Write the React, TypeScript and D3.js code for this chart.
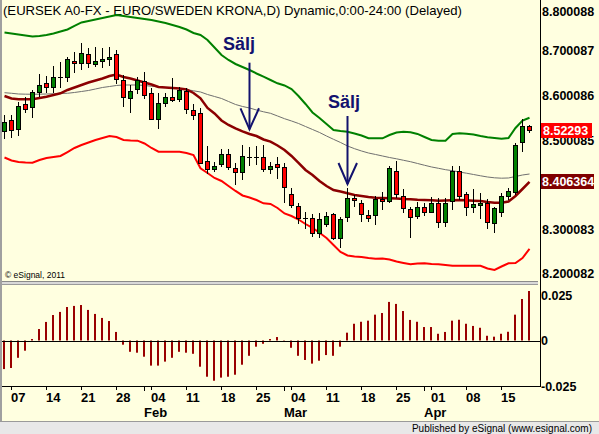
import React from "react";
import * as d3 from "d3";

// ---------- data ----------
const openPrices = [
  8.5207, 8.5453, 8.5245, 8.5806, 8.5738, 8.6088, 8.6276, 8.6186, 8.6422, 8.6410,
  8.6783, 8.6725, 8.6933, 8.6703, 8.6770, 8.6815, 8.6927, 8.6339, 8.5940, 8.6144,
  8.6334, 8.6052, 8.5471, 8.5841, 8.5976, 8.5918, 8.6110, 8.5677, 8.5603, 8.4527,
  8.4348, 8.4466, 8.4684, 8.4370, 8.4287, 8.4630, 8.4630, 8.4623, 8.4348, 8.4466,
  8.4406, 8.3794, 8.3524, 8.3249, 8.3249, 8.2913, 8.3121, 8.3339, 8.2801, 8.3271,
  8.3711, 8.3585, 8.3312, 8.3312, 8.3682, 8.3637, 8.4310, 8.3756, 8.3451, 8.3307,
  8.3495, 8.3383, 8.3598, 8.3173, 8.3643, 8.4310, 8.3788, 8.3509, 8.3547, 8.3585,
  8.3150, 8.3383, 8.3756, 8.3846, 8.4953, 8.5319,
];
const highPrices = [
  8.5565, 8.5565, 8.5857, 8.5962, 8.6126, 8.6484, 8.6440, 8.6664, 8.6743, 8.6873,
  8.6978, 8.7173, 8.7061, 8.7083, 8.7068, 8.7083, 8.7023, 8.6451, 8.6227, 8.6417,
  8.6522, 8.6178, 8.6065, 8.6052, 8.6388, 8.6182, 8.6160, 8.5806, 8.5729, 8.4876,
  8.4518, 8.4796, 8.4796, 8.4482, 8.4885, 8.4840, 8.4870, 8.4892, 8.4518, 8.4630,
  8.4482, 8.3922, 8.3585, 8.3397, 8.3345, 8.3361, 8.3397, 8.3361, 8.3285, 8.3922,
  8.3772, 8.3659, 8.3435, 8.3749, 8.3846, 8.4421, 8.4540, 8.3900, 8.3509, 8.3621,
  8.3598, 8.3720, 8.3698, 8.3698, 8.4421, 8.4421, 8.3846, 8.3900, 8.3810, 8.3675,
  8.3509, 8.3823, 8.3922, 8.4944, 8.5469, 8.5330,
];
const lowPrices = [
  8.5021, 8.5050, 8.5094, 8.5616, 8.5504, 8.5976, 8.6052, 8.6065, 8.6160, 8.6312,
  8.6500, 8.6563, 8.6608, 8.6641, 8.6612, 8.6664, 8.6256, 8.5752, 8.5616, 8.6043,
  8.5929, 8.5442, 8.5245, 8.5752, 8.5857, 8.5864, 8.5587, 8.5453, 8.4466, 8.4242,
  8.4294, 8.4406, 8.4332, 8.3985, 8.4108, 8.4421, 8.4437, 8.4294, 8.4242, 8.4137,
  8.3585, 8.3473, 8.3115, 8.3003, 8.2837, 8.2801, 8.3061, 8.2762, 8.2576, 8.3159,
  8.3509, 8.3173, 8.3173, 8.3088, 8.3435, 8.3585, 8.3698, 8.3361, 8.2801, 8.3227,
  8.3300, 8.3361, 8.3025, 8.3061, 8.3435, 8.3659, 8.3300, 8.3361, 8.3227, 8.3009,
  8.2926, 8.3285, 8.3659, 8.3772, 8.4742, 8.5155,
];
const closePrices = [
  8.5401, 8.5229, 8.5767, 8.5694, 8.6074, 8.6238, 8.6200, 8.6424, 8.6422, 8.6815,
  8.6725, 8.6949, 8.6725, 8.6772, 8.6817, 8.6860, 8.6366, 8.5962, 8.6104, 8.6350,
  8.6009, 8.5475, 8.5828, 8.5976, 8.5902, 8.6126, 8.5694, 8.5565, 8.4500, 8.4348,
  8.4421, 8.4684, 8.4406, 8.4287, 8.4639, 8.4630, 8.4630, 8.4348, 8.4421, 8.4406,
  8.3958, 8.3547, 8.3249, 8.3249, 8.2926, 8.3227, 8.3307, 8.2801, 8.3233, 8.3711,
  8.3659, 8.3339, 8.3249, 8.3682, 8.3637, 8.4370, 8.3788, 8.3473, 8.3271, 8.3509,
  8.3383, 8.3585, 8.3159, 8.3598, 8.4316, 8.3756, 8.3509, 8.3563, 8.3592, 8.3159,
  8.3473, 8.3749, 8.3862, 8.4892, 8.5319, 8.52293,
];
const upperBand = [
  8.7415, 8.7393, 8.7370, 8.7348, 8.7325, 8.7336, 8.7359, 8.7393, 8.7437, 8.7482,
  8.7561, 8.7640, 8.7674, 8.7707, 8.7741, 8.7774, 8.7808, 8.7786, 8.7763, 8.7741,
  8.7718, 8.7696, 8.7662, 8.7629, 8.7584, 8.7539, 8.7482, 8.7404, 8.7359, 8.7247,
  8.7079, 8.6911, 8.6799, 8.6709, 8.6642, 8.6574, 8.6496, 8.6424, 8.6350, 8.6276,
  8.6227, 8.6148, 8.5991, 8.5812, 8.5621, 8.5498, 8.5363, 8.5229, 8.5207, 8.5191,
  8.5151, 8.5106, 8.5043, 8.5043, 8.5043, 8.5117, 8.5173, 8.5191, 8.5178, 8.5140,
  8.5072, 8.5005, 8.4990, 8.4990, 8.5140, 8.5155, 8.5144, 8.5128, 8.5094, 8.5065,
  8.5050, 8.5034, 8.5050, 8.5274, 8.5442, 8.5504,
];
const lowerBand = [
  8.4612, 8.4545, 8.4511, 8.4500, 8.4496, 8.4556, 8.4601, 8.4623, 8.4646, 8.4735,
  8.4825, 8.4892, 8.4949, 8.5005, 8.5050, 8.5094, 8.5072, 8.5005, 8.4994, 8.4990,
  8.4926, 8.4825, 8.4742, 8.4742, 8.4742, 8.4742, 8.4713, 8.4668, 8.4370, 8.4265,
  8.4153, 8.4086, 8.3974, 8.3862, 8.3761, 8.3716, 8.3659, 8.3585, 8.3570, 8.3480,
  8.3357, 8.3300, 8.3222, 8.3121, 8.3032, 8.2926, 8.2807, 8.2650, 8.2493, 8.2415,
  8.2392, 8.2381, 8.2359, 8.2343, 8.2348, 8.2325, 8.2280, 8.2247, 8.2217, 8.2235,
  8.2240, 8.2224, 8.2220, 8.2202, 8.2186, 8.2186, 8.2186, 8.2186, 8.2186, 8.2123,
  8.2090, 8.2168, 8.2240, 8.2247, 8.2359, 8.2561,
];
const fastAverage = [
  8.5991, 8.5935, 8.5918, 8.5918, 8.5918, 8.5947, 8.5976, 8.6014, 8.6052, 8.6126,
  8.6182, 8.6238, 8.6294, 8.6339, 8.6384, 8.6440, 8.6474, 8.6417, 8.6384, 8.6339,
  8.6294, 8.6249, 8.6194, 8.6182, 8.6171, 8.6160, 8.6137, 8.6059, 8.5940, 8.5723,
  8.5599, 8.5442, 8.5341, 8.5263, 8.5196, 8.5140, 8.5094, 8.5016, 8.4967, 8.4881,
  8.4780, 8.4646, 8.4489, 8.4332, 8.4220, 8.4086, 8.3974, 8.3884, 8.3850, 8.3810,
  8.3772, 8.3750, 8.3727, 8.3711, 8.3705, 8.3698, 8.3693, 8.3682, 8.3675, 8.3664,
  8.3659, 8.3652, 8.3643, 8.3648, 8.3655, 8.3659, 8.3652, 8.3643, 8.3637, 8.3614,
  8.3598, 8.3598, 8.3625, 8.3750, 8.3906, 8.406364,
];
const slowAverage = [
  8.6065, 8.6052, 8.6036, 8.6032, 8.6030, 8.6032, 8.6036, 8.6041, 8.6048, 8.6052,
  8.6070, 8.6092, 8.6115, 8.6148, 8.6182, 8.6204, 8.6227, 8.6238, 8.6238, 8.6238,
  8.6227, 8.6209, 8.6194, 8.6182, 8.6171, 8.6164, 8.6137, 8.6108, 8.6081, 8.6025,
  8.5980, 8.5935, 8.5868, 8.5801, 8.5756, 8.5722, 8.5677, 8.5637, 8.5603, 8.5543,
  8.5482, 8.5431, 8.5375, 8.5307, 8.5240, 8.5173, 8.5094, 8.5020, 8.4949, 8.4870,
  8.4810, 8.4758, 8.4713, 8.4680, 8.4646, 8.4612, 8.4583, 8.4550, 8.4518, 8.4478,
  8.4438, 8.4400, 8.4370, 8.4339, 8.4316, 8.4287, 8.4260, 8.4231, 8.4202, 8.4175,
  8.4157, 8.4148, 8.4153, 8.4186, 8.4220, 8.4242,
];
const oscillator = [
  -0.0157, -0.0151, -0.0095, -0.0056, 0.0008, 0.0063, 0.0102, 0.0140, 0.0157, 0.0184,
  0.0190, 0.0195, 0.0168, 0.0146, 0.0124, 0.0107, 0.0047, -0.0023, -0.0062, -0.0067,
  -0.0089, -0.0138, -0.0138, -0.0116, -0.0095, -0.0062, -0.0067, -0.0073, -0.0144, -0.0199,
  -0.0221, -0.0204, -0.0199, -0.0188, -0.0133, -0.0084, -0.0034, -0.0018, 0.0008, 0.0019,
  0.0002, -0.0040, -0.0084, -0.0107, -0.0127, -0.0111, -0.0080, -0.0084, -0.0034, 0.0043,
  0.0092, 0.0103, 0.0109, 0.0142, 0.0151, 0.0212, 0.0201, 0.0162, 0.0113, 0.0103,
  0.0074, 0.0074, 0.0037, 0.0047, 0.0109, 0.0114, 0.0092, 0.0080, 0.0070, 0.0026,
  0.0021, 0.0037, 0.0048, 0.0142, 0.0228, 0.0272,
];
// visible price-axis labels (8.400084 is hidden behind the average marker in the original)
const priceTicks = [8.200082, 8.300083, 8.500085, 8.600086, 8.700087, 8.800088];
const priceTickLabels = ["8.200082", "8.300083", "8.500085", "8.600086", "8.700087", "8.800088"];
const oscTicks = [0.025, 0, -0.025];
const oscTickLabels = ["0.025", "0", "-0.025"];
const lastPrice = 8.52293;
const lastPriceLabel = "8.52293";
const lastAverage = 8.406364;
const lastAverageLabel = "8.406364";
const sellSignals = [
  { bar: 35, from: 8.6738, to: 8.5245, labelBar: 33.5, labelPrice: 8.7023, label: "Sälj" },
  { bar: 49, from: 8.5543, to: 8.4018, labelBar: 48.5, labelPrice: 8.5722, label: "Sälj" },
];
const titleText = "(EURSEK A0-FX - EURO/SWEDEN KRONA,D) Dynamic,0:00-24:00 (Delayed)";
const copyrightText = "© eSignal, 2011";
const footerText = "Published by eSignal (www.esignal.com)";

const FONT = "'Liberation Sans', Arial, sans-serif";

export default function App() {
  const W = 599;
  const H = 434;
  const dates = d3
    .timeDay.range(new Date(2011, 0, 6), new Date(2011, 3, 22))
    .filter((d) => d.getDay() !== 0 && d.getDay() !== 6);
  const n = closePrices.length;
  const x = d3.scaleLinear().domain([0, n - 1]).range([4, 529]);
  const yP = d3.scaleLinear().domain([8.2, 8.7]).range([274, 51]);
  const yO = d3.scaleLinear().domain([-0.025, 0.025]).range([386, 295]);
  const cx = (i: number) => Math.round(x(i));

  const line = d3
    .line<number>()
    .x((_, i) => x(i) + 0.5)
    .y((d) => yP(d));

  const dayFmt = d3.timeFormat("%d");
  const monFmt = d3.timeFormat("%b");
  const fridays = dates
    .map((d, i) => ({ d, i }))
    .filter((o) => o.d.getDay() === 5);
  const monthTicks: { i: number; label: string }[] = [];
  fridays.forEach((o, k) => {
    if (k > 0 && o.d.getMonth() !== fridays[k - 1].d.getMonth()) {
      monthTicks.push({ i: o.i - 1, label: monFmt(o.d) });
    }
  });

  const axisX = 540.5;
  const navy = "#12126e";

  return (
    <svg
      width={W}
      height={H}
      style={{ position: "fixed", left: 0, top: 0, display: "block" }}
      fontFamily={FONT}
    >
      <rect x={0} y={0} width={W} height={H} fill="#FFFFE0" />

      {/* title */}
      <text x={3} y={15} fontSize={13} fill="#000" textLength={459} lengthAdjust="spacingAndGlyphs">
        {titleText}
      </text>

      {/* indicator lines */}
      <path d={line(slowAverage) || ""} fill="none" stroke="#707070" strokeWidth={1} />
      <path d={line(upperBand) || ""} fill="none" stroke="#008000" strokeWidth={2} />
      <path d={line(lowerBand) || ""} fill="none" stroke="#FF0000" strokeWidth={2} />
      <path d={line(fastAverage) || ""} fill="none" stroke="#8B0000" strokeWidth={2.5} />

      {/* candles */}
      {closePrices.map((c, i) => {
        const o = openPrices[i];
        const px = cx(i);
        const yh = Math.round(yP(highPrices[i]));
        const yl = Math.round(yP(lowPrices[i]));
        const yTop = Math.round(yP(Math.max(o, c)));
        const yBot = Math.round(yP(Math.min(o, c)));
        const up = c >= o;
        return (
          <g key={i}>
            <line x1={px + 0.5} x2={px + 0.5} y1={yh} y2={yl} stroke="#000" strokeWidth={1} />
            {yBot - yTop < 1 ? (
              <line x1={px - 2} x2={px + 3} y1={yTop + 0.5} y2={yTop + 0.5} stroke="#000" strokeWidth={1} />
            ) : (
              <rect
                x={px - 1.5}
                y={yTop + 0.5}
                width={4}
                height={yBot - yTop}
                fill={up ? "#008000" : "#FF0000"}
                stroke="#000"
                strokeWidth={1}
              />
            )}
          </g>
        );
      })}

      {/* sell annotations */}
      {sellSignals.map((s, k) => {
        const ax = cx(s.bar) + 0.5;
        const y1 = yP(s.from);
        const y2 = yP(s.to);
        return (
          <g key={k}>
            <line x1={ax} x2={ax} y1={y1} y2={y2} stroke={navy} strokeWidth={2} />
            <polyline
              points={`${ax - 9},${y2 - 21} ${ax},${y2} ${ax + 9.5},${y2 - 21}`}
              fill="none"
              stroke={navy}
              strokeWidth={2}
            />
            <text
              x={x(s.labelBar) + 0.5}
              y={yP(s.labelPrice)}
              textAnchor="middle"
              fontSize={18}
              fontWeight="bold"
              fill={navy}
            >
              {s.label}
            </text>
          </g>
        );
      })}

      {/* copyright */}
      <text x={5} y={278} fontSize={8.5} fill="#000">
        {copyrightText}
      </text>

      {/* oscillator histogram */}
      {oscillator.map((v, i) => {
        const y0 = yO(0);
        const yv = yO(v);
        return (
          <rect
            key={i}
            x={cx(i) - 1}
            y={Math.min(y0, yv)}
            width={2}
            height={Math.abs(yv - y0)}
            fill="#990000"
          />
        );
      })}
      <line x1={0} x2={axisX} y1={Math.round(yO(0)) + 0.5} y2={Math.round(yO(0)) + 0.5} stroke="#000" strokeWidth={1} />

      {/* panel separator */}
      <rect x={0} y={281} width={538} height={4} fill="#d8d8d8" />
      <line x1={0} x2={538} y1={281.5} y2={281.5} stroke="#8a8a8a" />
      <line x1={0} x2={538} y1={284.5} y2={284.5} stroke="#9a9a9a" />

      {/* bottom axis */}
      <line x1={0} x2={axisX} y1={386.5} y2={386.5} stroke="#000" />
      {fridays.map((o) => (
        <g key={o.i}>
          <line x1={cx(o.i) + 0.5} x2={cx(o.i) + 0.5} y1={387} y2={390} stroke="#000" />
          <text x={cx(o.i)} y={401.5} fontSize={13} fontWeight="bold" fill="#000">
            {dayFmt(o.d)}
          </text>
        </g>
      ))}
      {monthTicks.map((m) => (
        <g key={m.i}>
          <line x1={cx(m.i) + 0.5} x2={cx(m.i) + 0.5} y1={387} y2={391} stroke="#000" />
          <text x={cx(m.i)} y={416.5} fontSize={13} fontWeight="bold" fill="#000">
            {m.label}
          </text>
        </g>
      ))}

      {/* right axis */}
      <line x1={axisX} x2={axisX} y1={0} y2={387} stroke="#000" />
      {priceTicks.map((v, k) => (
        <text
          key={k}
          x={542}
          y={Math.max(yP(v), 11) + 4.5}
          fontSize={12.5}
          fontWeight="bold"
          fill="#000"
        >
          {priceTickLabels[k]}
        </text>
      ))}
      <rect x={541} y={Math.round(yP(lastPrice)) - 7} width={51} height={15} fill="#FF0000" />
      <text x={543} y={Math.round(yP(lastPrice)) + 5} fontSize={12.5} fontWeight="bold" fill="#fff">
        {lastPriceLabel}
      </text>
      <rect x={541} y={Math.round(yP(lastAverage)) - 8} width={53} height={15} fill="#800000" />
      <text x={542} y={Math.round(yP(lastAverage)) + 4} fontSize={12.5} fontWeight="bold" fill="#fff">
        {lastAverageLabel}
      </text>
      {oscTicks.map((v, k) => (
        <text key={k} x={541} y={yO(v) + 4.5} fontSize={12.5} fontWeight="bold" fill="#000">
          {oscTickLabels[k]}
        </text>
      ))}

      {/* left border */}
      <rect x={0} y={0} width={2} height={H} fill="#a0a0a0" />

      {/* footer */}
      <rect x={0} y={421} width={W} height={H - 421} fill="#e8e8e8" />
      <line x1={0} x2={W} y1={421.5} y2={421.5} stroke="#9a9a9a" />
      <text x={592} y={432} fontSize={10} textAnchor="end" fill="#000">
        {footerText}
      </text>
    </svg>
  );
}
